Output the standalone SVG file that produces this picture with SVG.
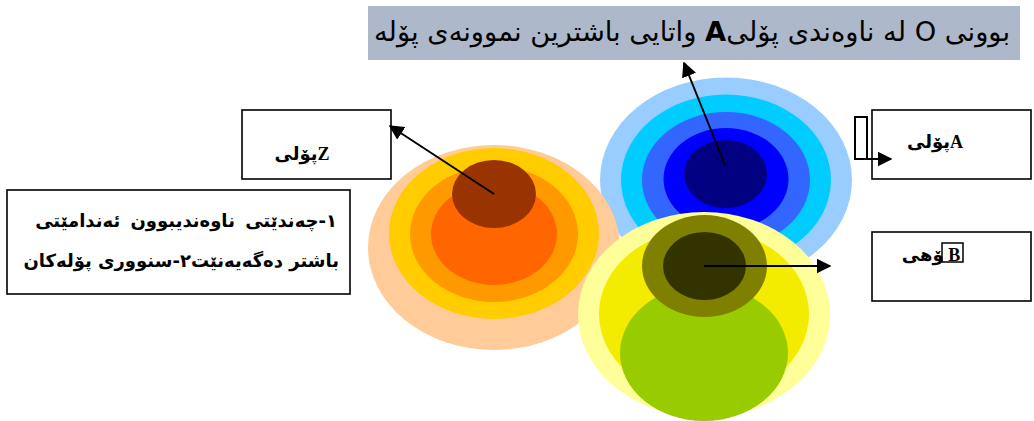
<svg xmlns="http://www.w3.org/2000/svg" width="1034" height="421" viewBox="0 0 1034 421">
<style>
.box{fill:#fff;stroke:#000;stroke-width:1.6}
.lbl{font-family:"Liberation Serif","DejaVu Sans",serif;font-size:18px;font-weight:bold;fill:#000}
.ar{font-family:"DejaVu Sans",sans-serif;fill:#000}
.con{stroke:#000;stroke-width:2;fill:none;marker-end:url(#ah)}
</style>
<defs>
<marker id="ah" viewBox="0 0 10 10" refX="9" refY="5" markerWidth="7.5" markerHeight="7.5" markerUnits="strokeWidth" orient="auto">
<path d="M0,0 L10,5 L0,10 Z" fill="#000"/>
</marker>
</defs>
<g id="title">
<rect x="368" y="6" width="652" height="54" fill="#ADB9CA"/>
<text class="ar" x="692" y="41" font-size="27.3" text-anchor="middle">&#x202B;بوونی O له ناوەندی پۆلی<tspan font-weight="bold">A</tspan> واتایی باشترین نموونەی پۆله&#x202C;</text>
</g>
<g id="classBlue">
<ellipse cx="726" cy="180" rx="126" ry="102.5" fill="#99CCFF"/>
<ellipse cx="726" cy="180" rx="105" ry="85.5" fill="#00CCFF"/>
<ellipse cx="726" cy="180" rx="84" ry="68" fill="#3366FF"/>
<ellipse cx="726" cy="179" rx="62.5" ry="51" fill="#0000FF"/>
<ellipse cx="725.5" cy="174" rx="41.5" ry="34" fill="#000080"/>
</g>
<g id="classOrange">
<ellipse cx="494" cy="247.5" rx="126" ry="102.5" fill="#FFCC99"/>
<ellipse cx="494" cy="233.5" rx="105" ry="85.5" fill="#FFCC00"/>
<ellipse cx="494" cy="234" rx="84" ry="68" fill="#FF9900"/>
<ellipse cx="494" cy="234" rx="63" ry="51" fill="#FF6600"/>
<ellipse cx="494" cy="194" rx="42" ry="34" fill="#993300"/>
</g>
<g id="classYellow">
<ellipse cx="704" cy="314.5" rx="126" ry="102.5" fill="#FFFF99"/>
<ellipse cx="704" cy="314" rx="105" ry="85.5" fill="#F4EC00"/>
<ellipse cx="704" cy="353" rx="84" ry="68" fill="#99CC00"/>
<ellipse cx="704.5" cy="266" rx="62.5" ry="51" fill="#808000"/>
<ellipse cx="704.5" cy="266" rx="41.5" ry="34" fill="#333300"/>
</g>
<g id="labelZ">
<rect class="box" x="242" y="110" width="149" height="69"/>
<text class="lbl" x="302" y="160" text-anchor="middle">پۆلیZ</text>
</g>
<g id="labelA">
<rect class="box" x="872" y="110" width="159" height="69"/>
<text class="lbl" x="935" y="148" text-anchor="middle">پۆلیA</text>
<rect x="855" y="117" width="12" height="42" fill="none" stroke="#000" stroke-width="2"/>
</g>
<g id="labelB">
<rect class="box" x="872" y="232" width="159" height="69"/>
<text class="lbl" x="931" y="261" text-anchor="middle">ۆهی&#x200E;  B</text>
<rect x="942" y="243" width="21" height="19" fill="none" stroke="#000" stroke-width="1.5"/>
</g>
<g id="note">
<rect class="box" x="7" y="190" width="343" height="104"/>
<text class="ar" x="337" y="227" font-size="18" font-weight="bold" text-anchor="end" word-spacing="4">&#x202B;١-چەندێتی ناوەندیبوون ئەندامێتی&#x202C;</text>
<text class="ar" x="339" y="267" font-size="18" font-weight="bold" text-anchor="end">&#x202B;باشتر دەگەیەنێت٢-سنووری پۆلەکان&#x202C;</text>
</g>
<g id="connectors">
<line class="con" x1="725" y1="165" x2="684" y2="63"/>
<line class="con" x1="494" y1="194" x2="390" y2="126"/>
<line class="con" x1="704" y1="266" x2="830" y2="266"/>
<line class="con" x1="855" y1="159" x2="891" y2="159"/>
</g>
</svg>
